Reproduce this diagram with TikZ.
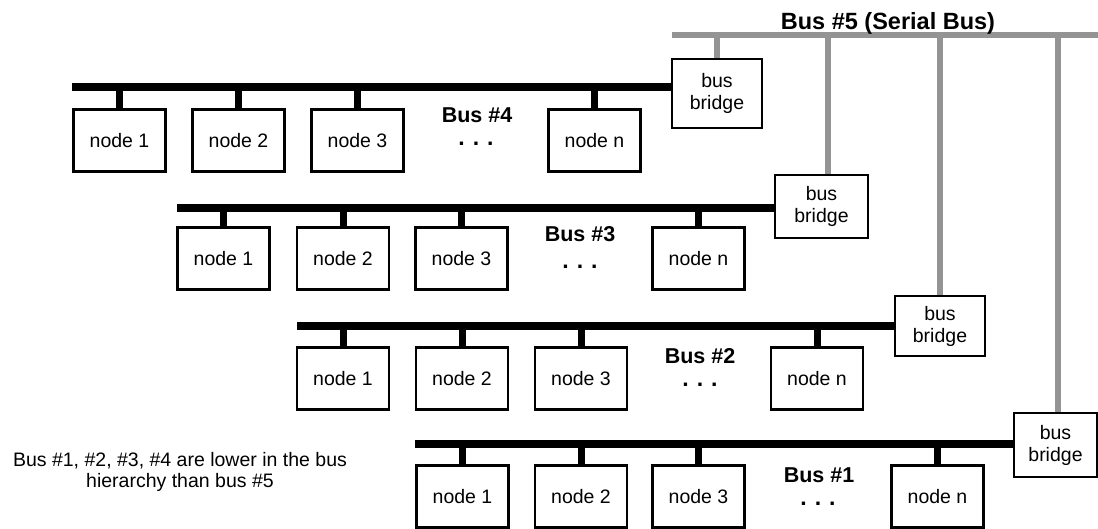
\documentclass[tikz,border=0pt]{standalone}
\usepackage{fontspec}
\setmainfont{Liberation Sans}
\begin{document}
\begin{tikzpicture}[x=1pt,y=-1pt,
  box/.style={draw, fill=white, line width=2.1pt, minimum width=92pt, minimum height=62pt, inner sep=0pt, font=\fontsize{19.5}{22}\selectfont},
  bridgebox/.style={box, align=center, minimum width=90pt, minimum height=63pt},
  busline/.style={line width=8pt},
  stubline/.style={line width=7pt},
  serial/.style={line width=6pt, draw=black!42},
  buslabel/.style={anchor=base, font=\fontsize{21.5}{24}\bfseries\selectfont},
  dotlabel/.style={anchor=base, font=\fontsize{23}{24}\bfseries\selectfont},
  note/.style={align=center, font=\fontsize{19.5}{21}\selectfont}]
\useasboundingbox (0,0) rectangle (1098,529);

% Serial bus #5
\coordinate (s0) at (672,35.5);
\coordinate (s1) at (1098,35.5);
\coordinate (t1) at (717,35.5);
\coordinate (t2) at (828,35.5);
\coordinate (t3) at (940,35.5);
\coordinate (t4) at (1058,35.5);

% Bus #4
\coordinate (a0) at (72,87.5);
\node[box] (a1) at (119.5,140.5) {node 1};
\node[box] (a2) at (238.5,140.5) {node 2};
\node[box] (a3) at (357.5,140.5) {node 3};
\node[box] (an) at (594.5,140.5) {node n};
\node[bridgebox, minimum height=69pt] (ab) at (717,93.5) {bus\\bridge};

% Bus #3
\coordinate (b0) at (177,208.5);
\node[box] (b1) at (223.5,258.5) {node 1};
\node[box] (b2) at (343,258.5) {node 2};
\node[box] (b3) at (461.5,258.5) {node 3};
\node[box] (bn) at (698.5,258.5) {node n};
\node[bridgebox, minimum width=93pt] (bb) at (821.5,206.5) {bus\\bridge};

% Bus #2
\coordinate (c0) at (297,326.5);
\node[box] (c1) at (343,378.5) {node 1};
\node[box] (c2) at (462,378.5) {node 2};
\node[box] (c3) at (581,378.5) {node 3};
\node[box] (cn) at (817,378.5) {node n};
\node[bridgebox, minimum height=60pt] (cb) at (940,326) {bus\\bridge};

% Bus #1
\coordinate (d0) at (415,443.5);
\node[box] (d1) at (462.5,496.5) {node 1};
\node[box] (d2) at (581,496.5) {node 2};
\node[box] (d3) at (698.5,496.5) {node 3};
\node[box] (dn) at (937.5,496.5) {node n};
\node[bridgebox, minimum width=83pt, minimum height=64pt] (db) at (1055.5,445) {bus\\bridge};

% serial bus lines
\draw[serial] (s0) -- (s1);
\draw[serial] (t1) -- (t1 |- ab.north);
\draw[serial] (t2) -- (t2 |- bb.north);
\draw[serial] (t3) -- (t3 |- cb.north);
\draw[serial] (t4) -- (t4 |- db.north);

% parallel buses
\foreach \r in {a,b,c,d}{
  \draw[busline] (\r0) -- (\r0 -| \r b.west);
  \foreach \k in {1,2,3,n}{
    \draw[stubline] (\r\k.north) -- (\r\k.north |- \r0);
  }
}

% labels
\node[buslabel, font=\fontsize{23.5}{26}\bfseries\selectfont] (l5) at (888,30) {Bus \#5 (Serial Bus)};
\node[buslabel] (l4) at (477,123) {Bus \#4};
\node[dotlabel] (p4) at (476,146) {.\hspace{8pt}.\hspace{8pt}.};
\node[buslabel] (l3) at (580,242) {Bus \#3};
\node[dotlabel] (p3) at (580,269) {.\hspace{8pt}.\hspace{8pt}.};
\node[buslabel] (l2) at (700,363) {Bus \#2};
\node[dotlabel] (p2) at (700,386) {.\hspace{8pt}.\hspace{8pt}.};
\node[buslabel] (l1) at (819,482) {Bus \#1};
\node[dotlabel] (p1) at (818,505) {.\hspace{8pt}.\hspace{8pt}.};

\node[note] (txt) at (180,472) {Bus \#1, \#2, \#3, \#4 are lower in the bus\\hierarchy than bus \#5};
\end{tikzpicture}
\end{document}
